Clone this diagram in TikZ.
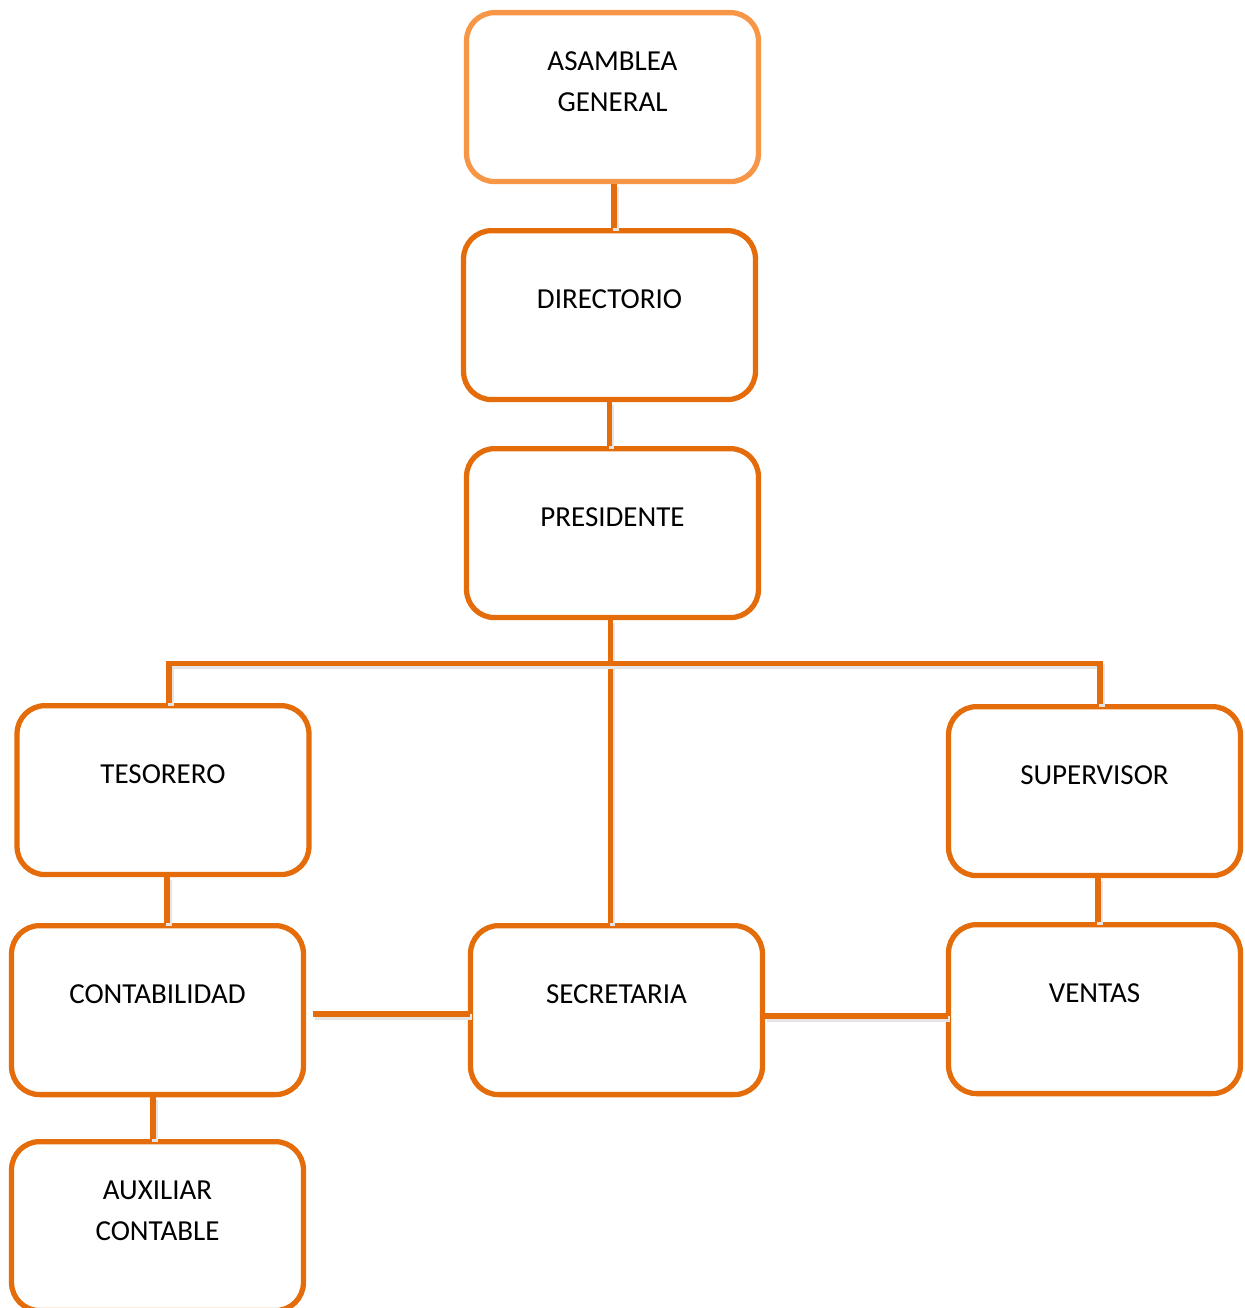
\documentclass[tikz,border=0pt]{standalone}
\usepackage{fontspec}
\setmainfont{Carlito}
\usetikzlibrary{positioning,calc}
\definecolor{naranja}{HTML}{E46C0A}
\definecolor{naranjaclaro}{HTML}{F79646}

\begin{document}
\begin{tikzpicture}[
    x=0.02cm, y=-0.02cm,
    cargo/.style={rectangle, draw=naranja, line width=3pt, rounded corners=16pt, fill=white, anchor=north, inner sep=0pt, minimum width=5.84cm, text height=1.55cm, text depth=1.83cm, align=center, font=\fontsize{16.5pt}{23.3pt}\selectfont},
    doble/.style={text height=1.98cm, text depth=1.40cm},
    linea/.style={draw=naranja, line width=3pt, preaction={draw=black!10, line width=3pt, transform canvas={shift={(0.04cm,-0.06cm)}}}}
]
    \useasboundingbox (0,0) rectangle (1244,1308);
    % cargos
    \node [cargo, doble, draw=naranjaclaro] (asamblea) at (612.5,10) {ASAMBLEA\\GENERAL};
    \node [cargo] (directorio) at (609.5,228) {DIRECTORIO};
    \node [cargo] (presidente) at (612.5,446) {PRESIDENTE};
    \node [cargo] (tesorero) at (163,703) {TESORERO};
    \node [cargo] (supervisor) at (1094.5,704) {SUPERVISOR};
    \node [cargo] (contabilidad) at (157.5,923) {CONTABILIDAD};
    \node [cargo] (secretaria) at (616.5,923) {SECRETARIA};
    \node [cargo] (ventas) at (1094.5,922) {VENTAS};
    \node [cargo, doble] (auxiliar) at (157.5,1139) {AUXILIAR\\CONTABLE};
    % lineas
    \coordinate (rama) at ($(presidente.south)+(0,43)$);
    \draw [linea] ($(asamblea.south)+(1.5,0)$) -- ($(asamblea.south |- directorio.north)+(1.5,0)$);
    \draw [linea] (directorio.south) -- (directorio.south |- presidente.north);
    \draw [linea] ($(presidente.south)+(-2,0)$) -- ($(presidente.south |- secretaria.north)+(-2,0)$);
    \draw [linea] ($(tesorero.north)+(6,0)$) |- (rama) -| ($(supervisor.north)+(5.5,0)$);
    \draw [linea] ($(tesorero.south)+(4,0)$) -- ($(tesorero.south |- contabilidad.north)+(4,0)$);
    \draw [linea] ($(contabilidad.south)+(-4.5,0)$) -- ($(contabilidad.south |- auxiliar.north)+(-4.5,0)$);
    \draw [linea] ($(supervisor.south)+(3.5,0)$) -- ($(supervisor.south |- ventas.north)+(3.5,0)$);
    \draw [linea] ($(contabilidad.east)+(7,4)$) -- ($(secretaria.west)+(2,4)$);
    \draw [linea] ($(secretaria.east)+(0,6)$) -- ($(secretaria.east -| ventas.west)+(2,6)$);
\end{tikzpicture}
\end{document}
